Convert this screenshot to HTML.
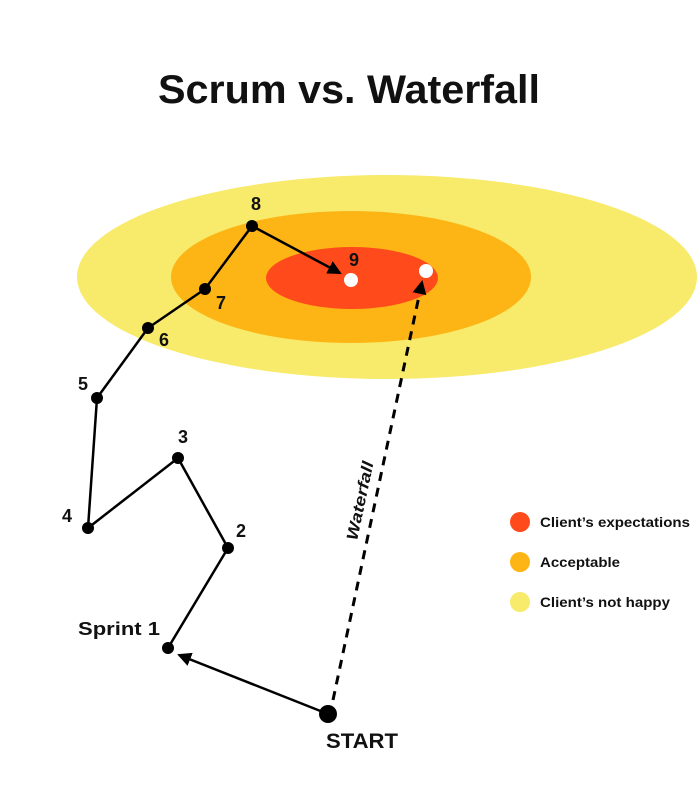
<!DOCTYPE html>
<html><head><style>body{margin:0;background:#fff}svg{display:block}</style></head>
<body>
<svg width="700" height="800" viewBox="0 0 700 800" xmlns="http://www.w3.org/2000/svg" font-family="Liberation Sans, DejaVu Sans, sans-serif">
<defs>
<marker id="ah2" markerWidth="14" markerHeight="14" refX="12" refY="7" orient="auto" markerUnits="userSpaceOnUse" viewBox="0 0 14 14"><path d="M0,0 L14,7 L0,14z" fill="#000"/></marker>
</defs>
<text x="349" y="103" text-anchor="middle" font-size="40" font-weight="bold" textLength="382" lengthAdjust="spacingAndGlyphs" fill="#111">Scrum vs. Waterfall</text>
<ellipse cx="387" cy="277" rx="310" ry="102" fill="#f8ea6a"/>
<ellipse cx="351" cy="277" rx="180" ry="66" fill="#fdb515"/>
<ellipse cx="352" cy="278" rx="86" ry="31" fill="#ff4a1c"/>
<polyline points="168,648 228,548 178,458 88,528 97,398 148,328 205,289 252,226" fill="none" stroke="#000" stroke-width="2.5"/>
<line x1="252" y1="226" x2="340" y2="273" stroke="#000" stroke-width="2.5" marker-end="url(#ah2)"/>
<line x1="328" y1="714" x2="179" y2="655" stroke="#000" stroke-width="2.5" marker-end="url(#ah2)"/>
<line x1="333" y1="700" x2="422" y2="282" stroke="#000" stroke-width="3" stroke-dasharray="9,7" marker-end="url(#ah2)"/>
<g fill="#000">
<circle cx="168" cy="648" r="6"/><circle cx="228" cy="548" r="6"/><circle cx="178" cy="458" r="6"/><circle cx="88" cy="528" r="6"/><circle cx="97" cy="398" r="6"/><circle cx="148" cy="328" r="6"/><circle cx="205" cy="289" r="6"/><circle cx="252" cy="226" r="6"/><circle cx="328" cy="714" r="9"/>
</g>
<circle cx="351" cy="280" r="7" fill="#fff"/><circle cx="426" cy="271" r="7" fill="#fff"/>
<g font-size="18" font-weight="bold" fill="#111">
<text x="251" y="210">8</text><text x="349" y="266">9</text><text x="216" y="309">7</text><text x="159" y="346">6</text><text x="78" y="390">5</text><text x="178" y="443">3</text><text x="62" y="522">4</text><text x="236" y="537">2</text>
<text x="78" y="635" textLength="82" lengthAdjust="spacingAndGlyphs">Sprint 1</text>
<text x="326" y="748" font-size="21" textLength="72" lengthAdjust="spacingAndGlyphs">START</text>
</g>
<text transform="translate(357,541) rotate(-78)" font-size="16" font-weight="bold" font-style="italic" fill="#111" textLength="80" lengthAdjust="spacingAndGlyphs">Waterfall</text>
<circle cx="520" cy="522" r="10" fill="#ff4a1c"/><circle cx="520" cy="562" r="10" fill="#fdb515"/><circle cx="520" cy="602" r="10" fill="#f8ea6a"/>
<g font-size="14" font-weight="bold" fill="#111">
<text x="540" y="527" textLength="150" lengthAdjust="spacingAndGlyphs">Client’s expectations</text><text x="540" y="567" textLength="80" lengthAdjust="spacingAndGlyphs">Acceptable</text><text x="540" y="607" textLength="130" lengthAdjust="spacingAndGlyphs">Client’s not happy</text>
</g>
</svg>
</body></html>
